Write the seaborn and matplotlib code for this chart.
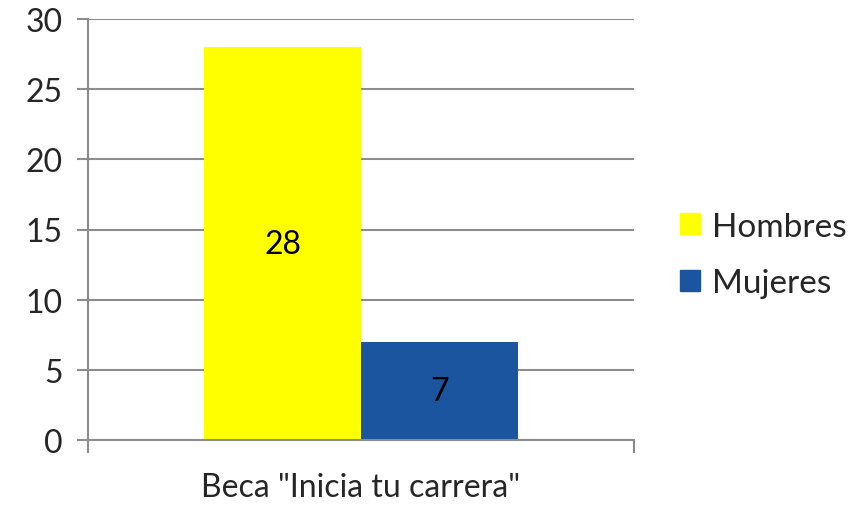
import pandas as pd
import matplotlib
matplotlib.use("Agg")
import matplotlib.pyplot as plt
import seaborn as sns

categoria = ['Beca "Inicia tu carrera"']
sexos = ["Hombres", "Mujeres"]
valores = [28, 7]
colores = ["#FFFF00", "#1B55A0"]

df = pd.DataFrame({
    "Beca": categoria * len(sexos),
    "Sexo": sexos,
    "Valor": valores,
})

sns.set_style("white")
plt.rcParams["font.family"] = ["Lato", "DejaVu Sans"]

fig = plt.figure(figsize=(8.66, 5.06), dpi=100)
ax = fig.add_axes([88 / 866, 1 - 441 / 506, 546 / 866, 421 / 506])

sns.barplot(data=df, x="Beca", y="Valor", hue="Sexo", palette=colores,
            width=0.574, saturation=1, linewidth=0, ax=ax, legend=False)

for cont in ax.containers:
    ax.bar_label(cont, label_type="center", fontsize=23, color="black")

ax.set_xlim(-0.5, 0.5)
ax.set_ylim(0, 30)
ax.set_yticks(range(0, 31, 5))
ax.set_xlabel("")
ax.set_ylabel("")

grid_col = "#8C8C8C"
ax.yaxis.grid(True, color=grid_col, linewidth=1.5)
ax.set_axisbelow(True)
for side in ["top", "right"]:
    ax.spines[side].set_visible(False)
ax.spines["left"].set_color(grid_col)
ax.spines["left"].set_linewidth(1.5)
ax.spines["bottom"].set_color(grid_col)
ax.spines["bottom"].set_linewidth(1.5)

ax.tick_params(axis="y", length=8, width=1.5, color=grid_col, labelsize=23, pad=10, left=True)
ax.tick_params(axis="x", which="major", length=0, labelsize=23, pad=23)
ax.set_xticks([-0.5, 0.5], minor=True)
ax.tick_params(axis="x", which="minor", length=9, width=1.5, color=grid_col, bottom=True)

handles = [plt.Rectangle((0, 0), 1, 1, color=c) for c in colores]
fig.legend(handles, sexos, loc="center left", bbox_to_anchor=(650 / 866, 1 - 256 / 506),
           frameon=False, fontsize=24, handlelength=0.6, handleheight=0.6,
           handletextpad=0.36, labelspacing=0.8)

fig.savefig("out.png", dpi=100)
